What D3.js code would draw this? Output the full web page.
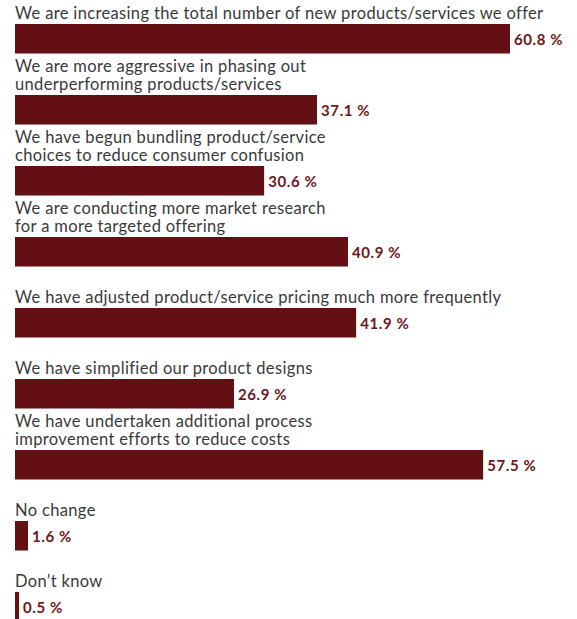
<!DOCTYPE html>
<html>
<head>
<meta charset="utf-8">
<script src="https://cdn.jsdelivr.net/npm/d3@7"></script>
<style>
  html, body { margin: 0; padding: 0; background: #fff; }
  svg { display: block; }
</style>
</head>
<body>
<div id="chart"></div>
<script>
// Survey responses: changes made to product/service offerings
const categories = [
  ["We are increasing the total number of new products/services we offer"],
  ["We are more aggressive in phasing out", "underperforming products/services"],
  ["We have begun bundling product/service", "choices to reduce consumer confusion"],
  ["We are conducting more market research", "for a more targeted offering"],
  ["We have adjusted product/service pricing much more frequently"],
  ["We have simplified our product designs"],
  ["We have undertaken additional process", "improvement efforts to reduce costs"],
  ["No change"],
  ["Don\u2019t know"]
];
const values = [60.8, 37.1, 30.6, 40.9, 41.9, 26.9, 57.5, 1.6, 0.5];

const width = 577, height = 619;
const svg = d3.select("#chart").append("svg")
  .attr("width", width).attr("height", height);

const x = d3.scaleLinear().domain([0, 60.8]).range([15, 510]);
// one band per answer; the bar sits at the top of its band, the label above it
const y = d3.scaleBand()
  .domain(d3.range(categories.length))
  .range([24, 24 + 71 * categories.length])
  .padding(0);
const barH = 29.5;

const barColor = "#630f14";
const valueColor = "#6e161b";
const textColor = "#3a3a3a";
const font = "Lato, 'Open Sans', sans-serif";

const rows = svg.selectAll("g.row")
  .data(values)
  .join("g")
  .attr("class", "row");

rows.append("rect")
  .attr("x", x(0))
  .attr("y", (d, i) => y(i))
  .attr("width", d => x(d) - x(0))
  .attr("height", barH)
  .attr("fill", barColor);

rows.append("text")
  .attr("x", d => x(d) + 4)
  .attr("y", (d, i) => y(i) + barH / 2 + 6)
  .attr("fill", valueColor)
  .attr("font-family", font)
  .attr("font-weight", "bold")
  .attr("font-size", "15px")
  .attr("letter-spacing", "0.6px")
  .text(d => d.toFixed(1) + " %");

rows.each(function(d, i) {
  const lines = categories[i];
  const g = d3.select(this);
  const top = y(i);
  lines.forEach((line, j) => {
    g.append("text")
      .attr("x", x(0))
      .attr("y", top - 5.5 - (lines.length - 1 - j) * 18)
      .attr("fill", textColor)
      .attr("font-family", font)
      .attr("font-size", "16.5px")
      .attr("letter-spacing", "0.35px")
      .text(line);
  });
});
</script>
</body>
</html>
